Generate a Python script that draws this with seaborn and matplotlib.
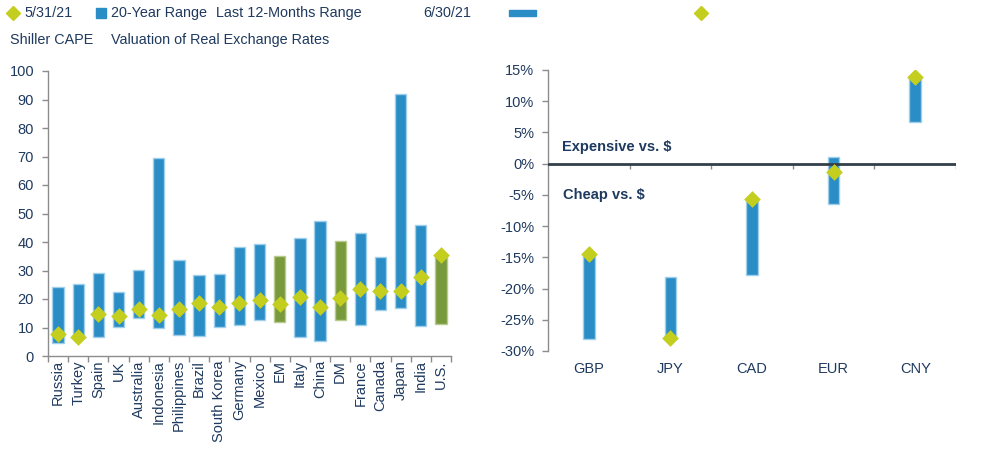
import numpy as np
import pandas as pd
import matplotlib
matplotlib.use("Agg")
import matplotlib.pyplot as plt
from matplotlib.lines import Line2D
from matplotlib.patches import Rectangle
import seaborn as sns

# ---------------- data ----------------
countries = ["Russia", "Turkey", "Spain", "UK", "Australia", "Indonesia", "Philippines",
             "Brazil", "South Korea", "Germany", "Mexico", "EM", "Italy", "China", "DM",
             "France", "Canada", "Japan", "India", "U.S."]
cape_low = [4.7, 6.5, 6.8, 10.1, 13.3, 9.7, 7.3, 6.9, 10.1, 11.0, 12.6, 12.1, 6.7, 5.4,
            12.5, 11.0, 16.3, 17.0, 10.7, 11.4]
cape_high = [24.2, 25.3, 29.0, 22.6, 30.3, 69.4, 33.7, 28.3, 28.8, 38.3, 39.3, 35.2, 41.5,
             47.4, 40.4, 43.2, 34.8, 91.8, 46.1, 35.6]
cape_current = [7.8, 6.8, 14.6, 14.1, 16.5, 14.4, 16.5, 18.5, 17.2, 18.7, 19.6, 18.1, 20.6,
                17.2, 20.3, 23.5, 22.8, 22.7, 27.6, 35.6]
aggregates = ["EM", "DM", "U.S."]

currencies = ["GBP", "JPY", "CAD", "EUR", "CNY"]
fx_low = [-28.0, -28.0, -17.8, -6.5, 6.6]
fx_high = [-14.4, -18.1, -5.6, 1.0, 13.9]
fx_current = [-14.5, -27.9, -5.6, -1.4, 13.8]

left_ticks = [0, 10, 20, 30, 40, 50, 60, 70, 80, 90, 100]
right_ticks = [-30, -25, -20, -15, -10, -5, 0, 5, 10, 15]

# ---------------- style ----------------
BLUE = "#2A8DC5"
BLUE_EDGE = "#9FCFEA"
GREEN = "#789A3C"
GREEN_EDGE = "#B7CB8E"
DIAMOND = "#C3CE1E"
NAVY = "#1F3A5F"
AXIS = "#8C8C8C"
ZERO = "#333F48"
HDR = 10.4

sns.set_theme(style="white")
plt.rcParams["font.family"] = ["Liberation Sans", "DejaVu Sans"]
plt.rcParams["text.color"] = NAVY

fig = plt.figure(figsize=(9.83, 4.53), dpi=100)
W, H = 983, 453


def fx(px):
    return px / W


def fy(py):
    return 1 - py / H


axL = fig.add_axes([fx(48), fy(356), fx(451) - fx(48), fy(71) - fy(356)])
axR = fig.add_axes([fx(548), fy(351), fx(956) - fx(548), fy(70) - fy(351)])

# ---------------- left: Shiller CAPE ----------------
dfL = pd.DataFrame({"country": countries, "low": cape_low, "high": cape_high,
                    "current": cape_current})
dfL["span"] = dfL["high"] - dfL["low"]
sns.barplot(data=dfL, x="country", y="span", bottom=dfL["low"].to_numpy(), ax=axL,
            width=0.56, color=BLUE, saturation=1, linewidth=1.0, errorbar=None,
            order=countries)
for patch, c in zip(axL.patches, countries):
    if c in aggregates:
        patch.set_facecolor(GREEN)
        patch.set_edgecolor(GREEN_EDGE)
    else:
        patch.set_facecolor(BLUE)
        patch.set_edgecolor(BLUE_EDGE)
sns.stripplot(data=dfL, x="country", y="current", ax=axL, jitter=False, marker="D",
              size=8.5, color=DIAMOND, linewidth=0, order=countries, zorder=5)

axL.set_xlim(-0.5, len(countries) - 0.5)
axL.set_ylim(0, 100)
axL.set_yticks(left_ticks)
axL.set_xlabel("")
axL.set_ylabel("")
axL.set_xticks(range(len(countries)))
axL.set_xticklabels(countries, rotation=90, fontsize=10.5, color=NAVY)
axL.set_xticks(np.arange(len(countries) + 1) - 0.5, minor=True)
axL.tick_params(axis="x", which="major", length=0, pad=3)
axL.tick_params(axis="x", which="minor", length=4, width=1, color=AXIS, direction="out",
                bottom=True)
axL.tick_params(axis="y", length=4, width=1, color=AXIS, direction="out", left=True,
                labelsize=10.5, labelcolor=NAVY, pad=6)
for side in ["top", "right"]:
    axL.spines[side].set_visible(False)
for side in ["left", "bottom"]:
    axL.spines[side].set_color(AXIS)
    axL.spines[side].set_linewidth(1)

# ---------------- right: real exchange rates ----------------
dfR = pd.DataFrame({"cur": currencies, "low": fx_low, "high": fx_high,
                    "current": fx_current})
dfR["span"] = dfR["high"] - dfR["low"]
sns.barplot(data=dfR, x="cur", y="span", bottom=dfR["low"].to_numpy(), ax=axR,
            width=0.14, color=BLUE, saturation=1, edgecolor=BLUE_EDGE, linewidth=1.0,
            errorbar=None, order=currencies)
sns.stripplot(data=dfR, x="cur", y="current", ax=axR, jitter=False, marker="D",
              size=8.5, color=DIAMOND, linewidth=0, order=currencies, zorder=5)

axR.set_xlim(-0.5, len(currencies) - 0.5)
axR.set_ylim(-30, 15)
axR.set_yticks(right_ticks)
axR.set_yticklabels([f"{t}%" for t in right_ticks])
axR.set_xlabel("")
axR.set_ylabel("")
axR.axhline(0, color=ZERO, lw=2, zorder=3)
axR.vlines(np.arange(len(currencies)) + 0.5, -0.9, 0, color=AXIS, lw=1, zorder=2)
axR.tick_params(axis="x", length=0, pad=8, labelsize=10.5, labelcolor=NAVY)
axR.tick_params(axis="y", length=4, width=1, color=AXIS, direction="out", left=True,
                labelsize=10.5, labelcolor=NAVY, pad=6)
for side in ["top", "right", "bottom"]:
    axR.spines[side].set_visible(False)
axR.spines["left"].set_color(AXIS)
axR.spines["left"].set_linewidth(1)

axR.text(0.034, 0.727, "Expensive vs. $", transform=axR.transAxes, fontsize=10.5,
         fontweight="bold", color=NAVY, va="center", ha="left")
axR.text(0.037, 0.555, "Cheap vs. $", transform=axR.transAxes, fontsize=10.5,
         fontweight="bold", color=NAVY, va="center", ha="left")

# ---------------- header / legend ----------------
fig.add_artist(Line2D([fx(13)], [fy(13)], marker="D", markersize=7, color=DIAMOND,
                      linestyle="none", transform=fig.transFigure))
fig.text(fx(24), fy(13), "5/31/21", fontsize=HDR, color=NAVY, va="center", ha="left")
fig.add_artist(Rectangle((fx(96), fy(18)), fx(10), 10 / H, color=BLUE,
                         transform=fig.transFigure))
fig.text(fx(111), fy(13), "20-Year Range", fontsize=HDR, color=NAVY, va="center",
         ha="left")
fig.text(fx(216), fy(13), "Last 12-Months Range", fontsize=HDR, color=NAVY, va="center",
         ha="left")
fig.text(fx(423), fy(13), "6/30/21", fontsize=HDR, color=NAVY, va="center", ha="left")
fig.add_artist(Rectangle((fx(509), fy(16)), fx(27), 6 / H, color=BLUE,
                         transform=fig.transFigure))
fig.add_artist(Line2D([fx(701)], [fy(13)], marker="D", markersize=7, color=DIAMOND,
                      linestyle="none", transform=fig.transFigure))
fig.text(fx(10), fy(40), "Shiller CAPE", fontsize=HDR, color=NAVY, va="center", ha="left")
fig.text(fx(111), fy(40), "Valuation of Real Exchange Rates", fontsize=HDR, color=NAVY,
         va="center", ha="left")

fig.savefig("out.png", dpi=100)
